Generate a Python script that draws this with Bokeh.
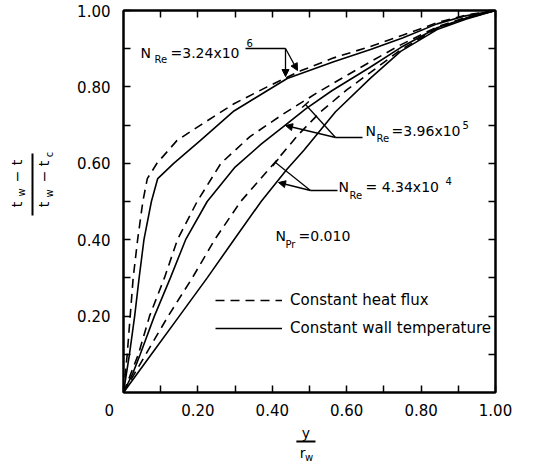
from math import pi
from bokeh.plotting import figure
from bokeh.layouts import row, column
from bokeh.models import (Range1d, LinearAxis, FixedTicker, CustomJSTickFormatter,
                          Label, Arrow, NormalHead, TeeHead, Legend, LegendItem)
from bokeh.embed import file_html
from bokeh.resources import INLINE

# ---------------- data ----------------
tick_values = [0.2, 0.4, 0.6, 0.8, 1.0]
minor_values = [0.1, 0.3, 0.5, 0.7, 0.9]
x_tick_values = [0.0, 0.2, 0.4, 0.6, 0.8, 1.0]
x_tick_labels = ["0\u00a0\u00a0\u00a0\u00a0\u00a0\u00a0", "0.20", "0.40", "0.60", "0.80", "1.00"]
y_tick_labels = ["0.20", "0.40", "0.60", "0.80", "1.00"]

# N_Re = 3.24e6
hf_a_x = [0, 0.005, 0.010, 0.018, 0.026, 0.038, 0.052, 0.064, 0.09, 0.144, 0.207, 0.297, 0.386, 0.476, 0.565, 0.664, 0.75, 0.843, 0.92, 1.0]
hf_a_y = [0, 0.05, 0.10, 0.20, 0.30, 0.40, 0.50, 0.56, 0.60, 0.66, 0.70, 0.756, 0.80, 0.842, 0.876, 0.906, 0.935, 0.968, 0.988, 1.0]
wt_a_x = [0, 0.008, 0.016, 0.03, 0.042, 0.055, 0.075, 0.092, 0.135, 0.207, 0.297, 0.44, 0.565, 0.664, 0.75, 0.843, 0.92, 1.0]
wt_a_y = [0, 0.05, 0.10, 0.20, 0.30, 0.40, 0.50, 0.56, 0.60, 0.66, 0.737, 0.822, 0.866, 0.898, 0.928, 0.965, 0.986, 1.0]

# N_Re = 3.96e5
hf_b_x = [0, 0.02, 0.04, 0.07, 0.11, 0.145, 0.198, 0.262, 0.34, 0.431, 0.521, 0.6, 0.664, 0.745, 0.843, 0.92, 1.0]
hf_b_y = [0, 0.05, 0.10, 0.20, 0.30, 0.40, 0.50, 0.60, 0.67, 0.73, 0.785, 0.83, 0.866, 0.91, 0.957, 0.982, 1.0]
wt_b_x = [0, 0.025, 0.045, 0.083, 0.126, 0.167, 0.225, 0.30, 0.37, 0.435, 0.489, 0.56, 0.664, 0.745, 0.843, 0.92, 1.0]
wt_b_y = [0, 0.05, 0.10, 0.20, 0.30, 0.40, 0.50, 0.59, 0.65, 0.70, 0.742, 0.79, 0.852, 0.903, 0.955, 0.98, 1.0]

# N_Re = 4.34e4
hf_c_x = [0, 0.03, 0.06, 0.12, 0.185, 0.245, 0.315, 0.405, 0.47, 0.53, 0.60, 0.664, 0.745, 0.843, 0.92, 1.0]
hf_c_y = [0, 0.05, 0.10, 0.20, 0.30, 0.40, 0.50, 0.60, 0.675, 0.735, 0.792, 0.838, 0.897, 0.953, 0.979, 1.0]
wt_c_x = [0, 0.075, 0.15, 0.225, 0.297, 0.37, 0.44, 0.485, 0.57, 0.664, 0.745, 0.843, 0.92, 1.0]
wt_c_y = [0, 0.10, 0.20, 0.30, 0.40, 0.50, 0.585, 0.634, 0.735, 0.823, 0.893, 0.95, 0.977, 1.0]

legend_labels = ["Constant heat flux", "Constant wall temperature"]

FONT = "DejaVu Sans"
LEFT_W = 70          # width of the strip holding the y-axis title
MAIN_H = 422         # height of the main plot

# ---------------- main figure ----------------
p = figure(width=537 - LEFT_W, height=MAIN_H, x_range=Range1d(0, 1), y_range=Range1d(0, 1),
           output_backend="svg", toolbar_location=None,
           min_border_left=123 - LEFT_W, min_border_right=42, min_border_top=10,
           min_border_bottom=MAIN_H - 392)
p.grid.visible = False
p.outline_line_color = "black"
p.outline_line_width = 2
p.background_fill_color = "white"
p.border_fill_color = "white"

def style_axis(ax, ticks=tick_values, labels=None):
    ax.ticker = FixedTicker(ticks=ticks, minor_ticks=minor_values)
    ax.major_tick_in = 7
    ax.major_tick_out = 0
    ax.minor_tick_in = 7
    ax.minor_tick_out = 0
    ax.major_tick_line_width = 1.5
    ax.minor_tick_line_width = 1.5
    ax.axis_line_width = 2
    ax.major_label_text_font = FONT
    ax.major_label_text_font_size = "15px"
    ax.major_label_text_color = "black"
    if labels is not None:
        ax.major_label_overrides = {v: t for v, t in zip(ticks, labels)}

style_axis(p.xaxis[0], x_tick_values, x_tick_labels)
p.xaxis[0].major_label_standoff = 9
style_axis(p.yaxis[0], tick_values, y_tick_labels)
p.yaxis[0].major_label_standoff = 13

for place in ("above", "right"):
    ax = LinearAxis(formatter=CustomJSTickFormatter(code="return ''"))
    style_axis(ax)
    ax.major_label_standoff = 0
    p.add_layout(ax, place)

dash = "9 6"
r_hf = None
r_wt = None
for xs, ys in ((hf_a_x, hf_a_y), (hf_b_x, hf_b_y), (hf_c_x, hf_c_y)):
    r = p.line(xs, ys, line_color="black", line_width=1.6, line_dash=dash)
    r_hf = r_hf or r
for xs, ys in ((wt_a_x, wt_a_y), (wt_b_x, wt_b_y), (wt_c_x, wt_c_y)):
    r = p.line(xs, ys, line_color="black", line_width=1.6)
    r_wt = r_wt or r

legend = Legend(items=[LegendItem(label=legend_labels[0], renderers=[r_hf]),
                       LegendItem(label=legend_labels[1], renderers=[r_wt])],
                location=(92, 54), padding=0, margin=0, spacing=8,
                glyph_width=67, glyph_height=20, label_height=20, label_standoff=8,
                label_text_font=FONT, label_text_font_size="15px", label_text_color="black",
                border_line_alpha=0, background_fill_alpha=0)
p.add_layout(legend)

# page-pixel helpers for annotations inside the main frame
def X(px):
    return (px - 123) / 372.0

def Y(py):
    return (392 - py) / 382.0

def lab(fig, text, x, y, size=14, align="left", angle=0.0):
    fig.add_layout(Label(x=x, y=y, text=text, text_font=FONT,
                         text_font_size=f"{size}px", text_align=align,
                         text_baseline="middle", angle=angle, text_color="black"))

def mlab(text, px, py, size=14, align="left"):
    lab(p, text, X(px), Y(py), size, align)

def seg(fig, x0, y0, x1, y1, head=None, width=1.3):
    fig.add_layout(Arrow(x_start=x0, y_start=y0, x_end=x1, y_end=y1,
                         end=head, line_width=width, line_color="black"))

def mseg(p0, p1, head=None):
    seg(p, X(p0[0]), Y(p0[1]), X(p1[0]), Y(p1[1]), head)

def nhead():
    return NormalHead(size=7, fill_color="black", line_color="black", line_width=1)

def thead():
    return TeeHead(size=9, line_color="black", line_width=1.5)

# N_Re = 3.24 x 10^6
mlab("N", 140, 52)
mlab("Re", 154, 59, size=10)
mlab("=3.24x10", 170, 52)
mlab("6", 246, 42, size=10)
mseg((245, 48), (285, 48))
mseg((285, 48), (285, 76), nhead())
mseg((285, 48), (297, 70), nhead())

# N_Re = 3.96 x 10^5
mlab("N", 365, 130)
mlab("Re", 376, 138, size=10)
mlab("=3.96x10", 391, 130)
mlab("5", 462, 124, size=10)
mseg((335, 137), (362, 137))
mseg((335, 137), (285, 125), nhead())
mseg((335, 137), (305, 104), thead())

# N_Re = 4.34 x 10^4
mlab("N", 338, 186)
mlab("Re", 349, 195, size=10)
mlab("= 4.34x10", 365, 186)
mlab("4", 445, 180, size=10)
mseg((310, 190), (337, 190))
mseg((310, 190), (278, 182), nhead())
mseg((310, 190), (275, 162), thead())

# N_Pr = 0.010
mlab("N", 275, 235)
mlab("Pr", 285, 244, size=10)
mlab("=0.010", 298, 235)

# ---------------- strips holding the axis titles (page pixel coordinates) ----------------
def strip(width, height, x0, y0):
    f = figure(width=width, height=height, x_range=Range1d(x0, x0 + width),
               y_range=Range1d(y0 + height, y0), output_backend="svg", toolbar_location=None,
               x_axis_location=None, y_axis_location=None, min_border=0)
    f.grid.visible = False
    f.xgrid.grid_line_color = None
    f.ygrid.grid_line_color = None
    f.outline_line_color = None
    f.background_fill_color = "white"
    f.border_fill_color = "white"
    return f

left = strip(LEFT_W, 464, 0, 0)
R = pi / 2
lab(left, "t", 16, 204, align="center", angle=R)
lab(left, "w", 21, 192, size=10, align="center", angle=R)
lab(left, "\u2212", 16, 176, align="center", angle=R)
lab(left, "t", 16, 162, align="center", angle=R)
seg(left, 32, 153, 32, 215, width=2)
lab(left, "t", 43, 204, align="center", angle=R)
lab(left, "w", 49, 193, size=10, align="center", angle=R)
lab(left, "\u2212", 43, 176, align="center", angle=R)
lab(left, "t", 43, 163, align="center", angle=R)
lab(left, "c", 49, 154, size=10, align="center", angle=R)

bottom = strip(537 - LEFT_W, 464 - MAIN_H, LEFT_W, MAIN_H)
lab(bottom, "y", 299, 432, align="center")
seg(bottom, 287, 441, 311, 441, width=2)
lab(bottom, "r", 295, 452, align="center")
lab(bottom, "w", 303, 457, size=10, align="center")

layout = row(left, column(p, bottom, spacing=0), spacing=0)
open("out.html", "w").write(file_html(layout, INLINE))
